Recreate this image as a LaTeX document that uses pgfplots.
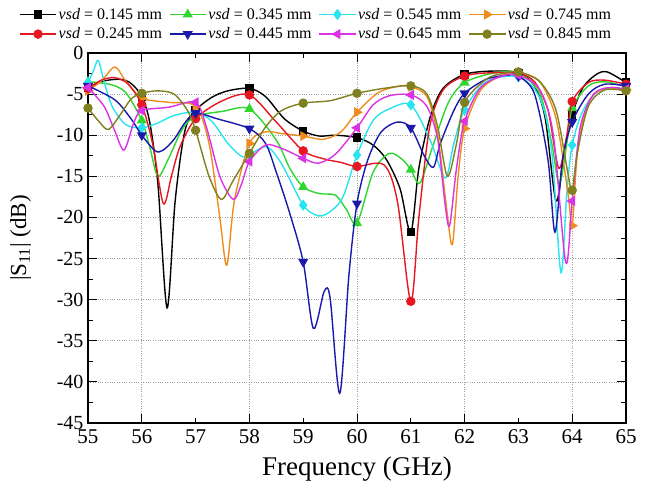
\documentclass[border=0pt]{standalone}
\usepackage{pgfplots}
\pgfplotsset{compat=1.18}
\usepackage{fontspec}
\setmainfont{Liberation Serif}
\definecolor{cK}{RGB}{0,0,0}
\definecolor{cR}{RGB}{232,22,32}
\definecolor{cG}{RGB}{45,215,45}
\definecolor{cC}{RGB}{40,228,240}
\definecolor{cO}{RGB}{240,140,30}
\definecolor{cB}{RGB}{25,25,170}
\definecolor{cM}{RGB}{220,50,230}
\definecolor{cL}{RGB}{128,128,32}
\begin{document}
\begin{tikzpicture}
\begin{axis}[
 scale only axis, width=538pt, height=370pt,
 xmin=55, xmax=65, ymin=-45, ymax=0,
 xtick={56,58,60,62,64},
 extra x ticks={55,57,59,61,63,65},
 extra x tick style={grid=none, major tick length=5pt},
 ytick={-45,-40,...,0},
 minor y tick num=1,
 tick align=inside,
 major tick length=9pt, minor tick length=5pt,
 grid=major,
 major grid style={dotted, gray!75, line width=0.7pt},
 axis line style={line width=1.3pt},
 every tick/.style={black, line width=1pt},
 /pgf/number format/assume math mode=true,
 xticklabel style={font=\fontsize{21}{24}\selectfont, yshift=-3pt},
 yticklabel style={font=\fontsize{20}{24}\selectfont, xshift=-1pt},
 xlabel={Frequency (GHz)},
 ylabel={|S\textsubscript{11}| (dB)},
 xlabel style={font=\fontsize{27}{30}\selectfont, at={(axis description cs:0.5,-0.125)}, anchor=center},
 ylabel style={font=\fontsize{23}{26}\selectfont, at={(axis description cs:-0.125,0.5)}, anchor=center},
 legend columns=4,
 legend cell align=left,
 legend style={at={(axis description cs:-0.128,1.127)}, anchor=north west, draw=none, fill=none, inner sep=0pt, row sep=3pt, font=\fontsize{16}{19}\selectfont, /tikz/every even column/.append style={column sep=5pt}},
 legend image code/.code={\draw[mark repeat=2,mark phase=2,#1] plot coordinates {(0pt,0pt) (18pt,0pt) (36pt,0pt)};},
 clip mode=individual,
 every axis plot/.append style={line width=1.4pt},
]
% 0.145 black
\addplot[cK, smooth, legend image post style={mark=square*, mark size=3.5pt}] coordinates {(55,-4.2)(55.3,-3.4)(55.6,-3.2)(55.8,-3.7)(56,-5.3)(56.15,-8.5)(56.3,-16)(56.47,-31)(56.62,-18)(56.8,-9.5)(57,-7)(57.3,-5.4)(57.6,-4.6)(58,-4.3)(58.3,-5.3)(58.65,-8)(59,-9.5)(59.3,-10.1)(59.6,-10)(60,-10.3)(60.3,-11.2)(60.55,-13)(60.8,-16.5)(61,-21.8)(61.15,-14)(61.36,-7.8)(61.6,-4.3)(62,-2.6)(62.5,-2.2)(63,-2.4)(63.3,-4)(63.5,-8)(63.7,-18)(63.85,-12)(64,-7.5)(64.2,-4.2)(64.45,-2.6)(64.65,-2.3)(65,-3.6)};
\addlegendentry{\textit{vsd} = 0.145 mm}
\addplot[cK, only marks, mark=square*, mark size=3.5pt, forget plot] coordinates {(55,-4.2)(56,-5.3)(57,-7)(58,-4.3)(59,-9.5)(60,-10.3)(61,-21.8)(62,-2.6)(63,-2.4)(64,-7.5)(65,-3.6)};
% 0.345 green
\addplot[cG, smooth, legend image post style={mark=triangle*, mark size=4.5pt}] coordinates {(55,-3.5)(55.4,-3.8)(55.7,-4.8)(56,-8.2)(56.15,-11.5)(56.3,-15)(56.5,-12.8)(56.75,-9.3)(57,-7.7)(57.5,-7.1)(58,-6.8)(58.5,-10.6)(58.75,-14)(59,-16.3)(59.3,-17.1)(59.6,-17.3)(59.8,-19)(60,-20.7)(60.3,-14.5)(60.6,-12.2)(60.85,-13)(61,-14.2)(61.17,-15.8)(61.4,-11.5)(61.7,-6)(62,-3.6)(62.5,-2.5)(63,-2.4)(63.4,-5)(63.62,-11)(63.76,-16)(63.9,-11)(64,-6.7)(64.3,-4)(64.6,-3.5)(65,-4.1)};
\addlegendentry{\textit{vsd} = 0.345 mm}
\addplot[cG, only marks, mark=triangle*, mark size=4.5pt, forget plot] coordinates {(55,-3.5)(56,-8.2)(57,-7.7)(58,-6.8)(59,-16.3)(60,-20.7)(61,-14.2)(62,-3.6)(63,-2.4)(64,-6.7)(65,-4.1)};
% 0.545 cyan
\addplot[cC, smooth, legend image post style={mark=diamond*, mark size=4.5pt}] coordinates {(55,-3.6)(55.1,-2.2)(55.19,-0.9)(55.3,-3.5)(55.45,-6.5)(55.7,-8.7)(56,-9.1)(56.3,-8.5)(56.6,-7.6)(57,-7.2)(57.3,-8.3)(57.6,-11)(57.86,-12.6)(58,-12.4)(58.32,-11.4)(58.6,-13.5)(59,-18.5)(59.28,-19.8)(59.5,-19.3)(59.74,-17.5)(60,-12.4)(60.3,-8.2)(60.6,-6.8)(61,-6.3)(61.36,-10.6)(61.64,-15.2)(61.8,-11)(62,-6.9)(62.4,-3.5)(63,-2.9)(63.4,-5.5)(63.62,-12)(63.79,-26.7)(63.9,-17)(64,-11.2)(64.2,-7)(64.5,-4.6)(65,-4.3)};
\addlegendentry{\textit{vsd} = 0.545 mm}
\addplot[cC, only marks, mark=diamond*, mark size=4.5pt, forget plot] coordinates {(55,-3.6)(56,-9.1)(57,-7.2)(58,-12.4)(59,-18.5)(60,-12.4)(61,-6.3)(62,-6.9)(63,-2.9)(64,-11.2)(65,-4.3)};
% 0.745 orange
\addplot[cO, smooth, legend image post style={mark=triangle*, mark size=4.5pt, mark options={rotate=-90}}] coordinates {(55,-4.6)(55.25,-3.4)(55.5,-1.7)(55.7,-3.4)(56,-5.5)(56.5,-6.0)(57,-6.5)(57.25,-11)(57.45,-20)(57.58,-25.8)(57.72,-18)(58,-11)(58.3,-9.6)(58.6,-9.8)(59,-10.1)(59.37,-10.5)(59.7,-9.6)(60,-7.2)(60.4,-4.8)(60.8,-4)(61,-4.1)(61.3,-5.3)(61.5,-10)(61.65,-18)(61.77,-23.3)(61.88,-15)(62,-9.2)(62.3,-4.5)(62.7,-2.7)(63,-2.4)(63.4,-3.5)(63.7,-8)(63.92,-17)(64,-21)(64.1,-12)(64.3,-6)(64.6,-4.3)(65,-4.5)};
\addlegendentry{\textit{vsd} = 0.745 mm}
\addplot[cO, only marks, mark=triangle*, mark size=4.5pt, mark options={rotate=-90}, forget plot] coordinates {(55,-4.6)(56,-5.5)(57,-6.5)(58,-11)(59,-10.1)(60,-7.2)(61,-4.1)(62,-9.2)(63,-2.4)(64,-21)(65,-4.5)};
% 0.245 red
\addplot[cR, smooth, legend image post style={mark=*, mark size=4pt}] coordinates {(55,-4.3)(55.25,-3.3)(55.5,-3.0)(55.75,-3.8)(56,-6.3)(56.2,-11)(56.4,-18.3)(56.55,-15)(56.71,-11.4)(57,-8)(57.5,-5.8)(58,-5.1)(58.5,-8.4)(59,-11.9)(59.4,-12.9)(59.7,-13.3)(60,-13.8)(60.5,-13.6)(60.75,-18)(61,-30.2)(61.15,-20)(61.35,-9)(61.6,-4.5)(62,-2.8)(62.5,-2.4)(63,-2.5)(63.3,-3.5)(63.55,-7)(63.75,-14)(63.9,-10)(64,-5.9)(64.3,-3.6)(64.6,-3.3)(65,-3.8)};
\addlegendentry{\textit{vsd} = 0.245 mm}
\addplot[cR, only marks, mark=*, mark size=4pt, forget plot] coordinates {(55,-4.3)(56,-6.3)(57,-8)(58,-5.1)(59,-11.9)(60,-13.8)(61,-30.2)(62,-2.8)(63,-2.5)(64,-5.9)(65,-3.8)};
% 0.445 blue
\addplot[cB, smooth, legend image post style={mark=triangle*, mark size=4.5pt, mark options={rotate=180}}] coordinates {(55,-4)(55.5,-5.7)(55.8,-8)(56,-10)(56.25,-11.9)(56.4,-11.8)(56.6,-10.5)(56.8,-8.5)(57,-7.3)(57.4,-8)(58,-9.2)(58.3,-11)(58.5,-14.5)(58.75,-19.5)(59,-25.4)(59.19,-33.5)(59.39,-29)(59.5,-29.8)(59.68,-41.4)(59.85,-27)(60,-18.3)(60.2,-13)(60.45,-9.6)(60.75,-8.4)(61,-9.1)(61.25,-12.5)(61.42,-13.9)(61.55,-11)(61.8,-7)(62,-4.9)(62.4,-3.2)(62.8,-2.7)(63,-2.8)(63.3,-5)(63.55,-13)(63.68,-21.8)(63.82,-13)(64,-8.4)(64.3,-5)(64.6,-3.8)(65,-4)};
\addlegendentry{\textit{vsd} = 0.445 mm}
\addplot[cB, only marks, mark=triangle*, mark size=4.5pt, mark options={rotate=180}, forget plot] coordinates {(55,-4)(56,-10)(57,-7.3)(58,-9.2)(59,-25.4)(60,-18.3)(61,-9.1)(62,-4.9)(63,-2.8)(64,-8.4)(65,-4)};
% 0.645 magenta
\addplot[cM, smooth, legend image post style={mark=triangle*, mark size=4.5pt, mark options={rotate=90}}] coordinates {(55,-4.2)(55.3,-6.5)(55.5,-9.5)(55.67,-11.8)(55.85,-8.5)(56,-7.0)(56.5,-6.6)(57,-6.0)(57.2,-9)(57.45,-15)(57.7,-17.8)(57.85,-16)(58,-13.2)(58.3,-11.2)(58.6,-11.6)(59,-12.8)(59.28,-13.4)(59.6,-12.3)(60,-9.1)(60.3,-6.3)(60.6,-5.2)(61,-5.1)(61.3,-6.5)(61.5,-10.5)(61.63,-18)(61.72,-21)(61.85,-14)(62,-8.3)(62.3,-4.2)(62.7,-2.8)(63,-2.7)(63.4,-4.5)(63.65,-10)(63.88,-25.5)(64,-18)(64.15,-9)(64.4,-5)(64.7,-4.2)(65,-4.4)};
\addlegendentry{\textit{vsd} = 0.645 mm}
\addplot[cM, only marks, mark=triangle*, mark size=4.5pt, mark options={rotate=90}, forget plot] coordinates {(55,-4.2)(56,-7.0)(57,-6.0)(58,-13.2)(59,-12.8)(60,-9.1)(61,-5.1)(62,-8.3)(63,-2.7)(64,-18)(65,-4.4)};
% 0.845 olive
\addplot[cL, smooth, legend image post style={mark=*, mark size=4pt}] coordinates {(55,-6.7)(55.2,-8.3)(55.38,-9.3)(55.6,-7.5)(55.8,-5.6)(56,-4.9)(56.3,-4.6)(56.6,-5)(56.85,-7)(57,-9.4)(57.25,-15)(57.48,-17.8)(57.7,-15.5)(58,-12.2)(58.3,-9)(58.6,-7)(59,-6.1)(59.5,-5.8)(60,-4.9)(60.5,-4.3)(61,-4.0)(61.3,-5)(61.5,-9)(61.68,-15)(61.85,-11)(62,-6.0)(62.4,-3.2)(62.7,-2.5)(63,-2.3)(63.4,-3.5)(63.7,-7)(63.93,-15)(64,-16.7)(64.1,-12)(64.3,-6.5)(64.6,-4.5)(65,-4.6)};
\addlegendentry{\textit{vsd} = 0.845 mm}
\addplot[cL, only marks, mark=*, mark size=4pt, forget plot] coordinates {(55,-6.7)(56,-4.9)(57,-9.4)(58,-12.2)(59,-6.1)(60,-4.9)(61,-4.0)(62,-6.0)(63,-2.3)(64,-16.7)(65,-4.6)};
\end{axis}
\pgfresetboundingbox
\path[use as bounding box] (-88pt,-65pt) rectangle (563pt,423pt);
\end{tikzpicture}
\end{document}
